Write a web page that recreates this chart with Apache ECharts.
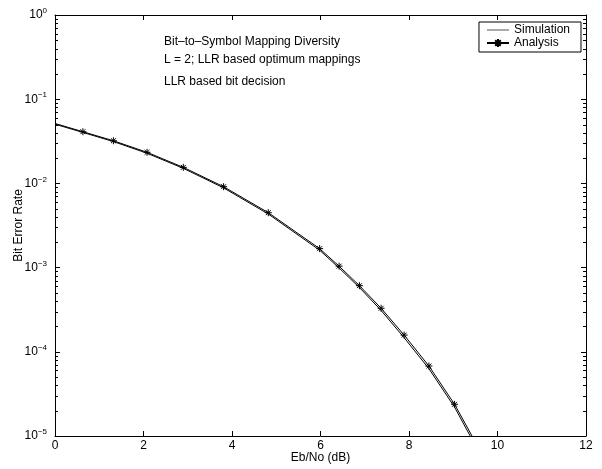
<!DOCTYPE html>
<html>
<head>
<meta charset="utf-8">
<script src="https://cdn.jsdelivr.net/npm/echarts@6/dist/echarts.min.js"></script>
<style>
  html, body { margin: 0; padding: 0; background: #fff; }
  #mainChart { width: 602px; height: 469px; }
</style>
</head>
<body>
<div id="mainChart"></div>
<script>
// Eb/No points (dB)
var ebno = [0, 0.63, 1.32, 2.08, 2.90, 3.81, 4.82, 5.98, 6.42, 6.88, 7.37, 7.89, 8.45, 9.03, 9.62];
// analysis curve (with markers)
var berAnalysis = [0.0515, 0.0411, 0.0321, 0.0234, 0.0155, 0.00914, 0.00449, 0.00168, 0.00104, 0.00061,
  0.000329, 0.000158, 6.78e-5, 2.38e-5, 6.5e-6];
// simulation curve (plain line)
var berSimulation = [0.0505, 0.0403, 0.0314, 0.0228, 0.0151, 0.00885, 0.00433, 0.00161, 0.00099, 0.00058,
  0.000310, 0.000147, 6.3e-5, 2.2e-5, 5.9e-6];
var xTicks = [0, 2, 4, 6, 8, 10, 12];
var notes = ["Bit\u2013to\u2013Symbol Mapping Diversity", "L = 2; LLR based optimum mappings", "LLR based bit decision"];

var FONT = "Liberation Sans";
var STAR = "path://M5,0L5,10M0,5L10,5M1.5,1.5L8.5,8.5M1.5,8.5L8.5,1.5";
var LINE_ICON = "path://M0,0L22,0L22,1L0,1Z";

// minor tick values of the log axis (2..9 x each decade)
var minorValues = [];
for (var k = -5; k < 0; k++) {
  for (var m = 2; m <= 9; m++) minorValues.push(m * Math.pow(10, k));
}

var chart = echarts.init(document.getElementById("mainChart"));

function pairs(xs, ys) {
  return xs.map(function (x, i) { return [x, ys[i]]; });
}

var analysisData = pairs(ebno, berAnalysis);
analysisData[0] = { value: analysisData[0], symbol: "none" };

var noteGraphics = notes.map(function (t, i) {
  return {
    type: "text",
    left: 164,
    top: [36, 54, 76][i],
    style: { text: t, fontSize: 12, fill: "#000", fontFamily: FONT },
  };
});

var option = {
  backgroundColor: "#fff",
  animation: false,
  textStyle: { fontFamily: FONT },
  grid: { left: 55, right: 16, top: 15, bottom: 33, outerBoundsMode: "none" },
  legend: {
    orient: "vertical",
    right: 21,
    top: 22,
    padding: [2, 11, 3, 7],
    itemGap: 1,
    itemWidth: 22,
    itemHeight: 10,
    borderColor: "#000",
    borderWidth: 1,
    backgroundColor: "#fff",
    textStyle: { fontSize: 12, color: "#000", fontFamily: FONT },
    data: [
      { name: "Simulation", icon: LINE_ICON, itemStyle: { color: "#555" } },
      { name: "Analysis" },
    ],
  },
  graphic: noteGraphics,
  xAxis: [
    {
      type: "value",
      min: 0,
      max: 12,
      interval: 2,
      name: "Eb/No (dB)",
      nameLocation: "middle",
      nameGap: 16,
      nameMoveOverlap: false,
      nameTextStyle: { fontSize: 12, color: "#000", fontFamily: FONT },
      axisLine: { lineStyle: { color: "#000", width: 1 } },
      axisTick: { inside: true, length: 5, lineStyle: { color: "#000" } },
      axisLabel: { fontSize: 12, color: "#000", margin: 4, fontFamily: FONT },
      splitLine: { show: false },
    },
    {
      type: "value",
      position: "top",
      min: 0,
      max: 12,
      interval: 2,
      axisLine: { onZero: false, lineStyle: { color: "#000", width: 1 } },
      axisTick: { inside: true, length: 5, lineStyle: { color: "#000" } },
      axisLabel: { show: false },
      splitLine: { show: false },
    },
  ],
  yAxis: [
    {
      type: "log",
      logBase: 10,
      min: 1e-5,
      max: 1,
      interval: 1,
      name: "Bit Error Rate",
      nameLocation: "middle",
      nameGap: 30,
      nameMoveOverlap: false,
      nameTextStyle: { fontSize: 12, color: "#000", fontFamily: FONT },
      axisLine: { show: true, onZero: false, lineStyle: { color: "#000", width: 1 } },
      axisTick: { show: true, inside: true, length: 5, lineStyle: { color: "#000" } },
      axisLabel: {
        margin: 8,
        formatter: function (v) {
          var e = Math.round(Math.log10(v));
          return "{b|10}{s|" + (e < 0 ? "\u2212" + (-e) : e) + "}";
        },
        rich: {
          b: { fontSize: 12, color: "#000", fontFamily: FONT },
          s: { fontSize: 8, color: "#000", fontFamily: FONT, padding: [0, 0, 8, 0] },
        },
      },
      splitLine: { show: false },
    },
    {
      type: "log",
      logBase: 10,
      position: "right",
      min: 1e-5,
      max: 1,
      interval: 1,
      axisLine: { show: true, onZero: false, lineStyle: { color: "#000", width: 1 } },
      axisTick: { show: true, inside: true, length: 5, lineStyle: { color: "#000" } },
      axisLabel: { show: false },
      splitLine: { show: false },
    },
  ],
  series: [
    {
      name: "Simulation",
      type: "line",
      data: pairs(ebno, berSimulation),
      symbol: "none",
      color: "#000",
      lineStyle: { color: "#000", width: 1 },
      z: 3,
    },
    {
      name: "Analysis",
      type: "line",
      data: analysisData,
      symbol: STAR,
      symbolSize: 7,
      showAllSymbol: true,
      color: "#000",
      itemStyle: { color: "#000", borderColor: "#000", borderWidth: 1 },
      lineStyle: { color: "#000", width: 1 },
      z: 4,
    },
  ],
};
chart.setOption(option);

// minor ticks on both vertical edges, placed through the chart's own scales
var tickLines = [];
minorValues.forEach(function (v) {
  var pl = chart.convertToPixel({ gridIndex: 0 }, [xTicks[0], v]);
  var pr = chart.convertToPixel({ gridIndex: 0 }, [xTicks[xTicks.length - 1], v]);
  var y = Math.round(pl[1]) + 0.5;
  var xl = Math.round(pl[0]);
  var xr = Math.round(pr[0]);
  tickLines.push({
    type: "line", z: 100, silent: true,
    shape: { x1: xl, y1: y, x2: xl + 3, y2: y },
    style: { stroke: "#000", lineWidth: 1 },
  });
  tickLines.push({
    type: "line", z: 100, silent: true,
    shape: { x1: xr, y1: y, x2: xr - 3, y2: y },
    style: { stroke: "#000", lineWidth: 1 },
  });
});
chart.setOption({ graphic: noteGraphics.concat(tickLines) });
</script>
</body>
</html>
